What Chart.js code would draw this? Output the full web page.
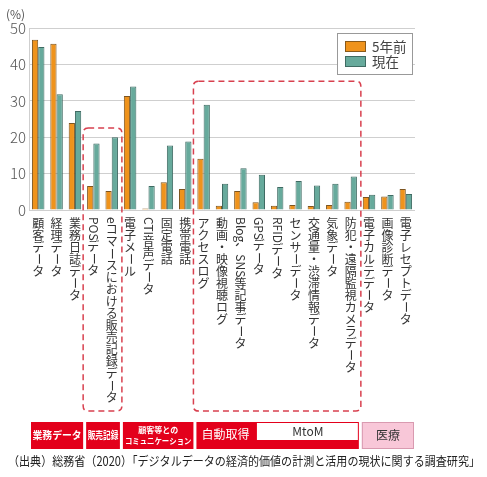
<!DOCTYPE html>
<html>
<head>
<meta charset="utf-8">
<script src="https://cdn.jsdelivr.net/npm/chart.js@4.4.1/dist/chart.umd.min.js"></script>
<style>
  body { margin: 0; background: #fff; }
  #wrap { width: 487px; height: 477px; position: relative; }
</style>
</head>
<body>
<div id="wrap"><canvas id="dataChart"></canvas></div>
<script>
// data
const categories = [
  "顧客データ", "経理データ", "業務日誌データ", "POSデータ",
  "eコマースにおける販売記録データ", "電子メール", "CTI音声データ", "固定電話",
  "携帯電話", "アクセスログ", "動画・映像視聴ログ", "Blog、SNS等記事データ",
  "GPSデータ", "RFIDデータ", "センサーデータ", "交通量・渋滞情報データ",
  "気象データ", "防犯・遠隔監視カメラデータ", "電子カルテデータ", "画像診断データ",
  "電子レセプトデータ"
];
const fiveYearsAgo = [46.8, 45.7, 23.9, 6.6, 5.2, 31.3, 0.4, 7.6, 5.8, 14.1, 1.2, 5.2, 2.1, 1.2, 1.4, 1.1, 1.4, 2.3, 3.6, 3.7, 5.8];
const current = [44.8, 31.8, 27.2, 18.3, 20.0, 33.9, 6.6, 17.7, 18.8, 28.9, 7.2, 11.5, 9.7, 6.3, 8.0, 6.7, 7.2, 9.2, 4.2, 4.1, 4.4];
const seriesNames = ["5年前", "現在"];
const yTicks = [0, 10, 20, 30, 40, 50];

// dashed boxes: category index range and top value
const groupBoxes = [
  { from: 3, to: 4, top: 22.5 },
  { from: 9, to: 17, top: 35.4 }
];

// band under the chart
const bandGroups = [
  { lines: ["業務データ"], from: 0, to: 2, kind: "red" },
  { lines: ["販売記録"], from: 3, to: 4, kind: "red" },
  { lines: ["顧客等との", "コミュニケーション"], from: 5, to: 8, kind: "red" },
  { lines: ["自動取得"], from: 9, to: 17, kind: "red" },
  { lines: ["医療"], from: 18, to: 20, kind: "pink" }
];
const mtomBand = { label: "MtoM", from: 11.9, to: 17 };
const sourceNote = "（出典）総務省（2020）「デジタルデータの経済的価値の計測と活用の現状に関する調査研究」";

const JP = '"Noto Sans CJK JP", "Noto Sans", sans-serif';
const orange = "#ef931c";
const teal = "#67aa9c";
const red = "#e3001b";

// draws one label top to bottom; latin runs and ー are turned sideways
function drawVertical(ctx, text, cx, y0, size) {
  ctx.font = size + "px " + JP;
  ctx.fillStyle = "#333";
  let y = y0;
  let i = 0;
  while (i < text.length) {
    let ch = text[i];
    if (/[A-Za-z0-9 、ー]/.test(ch)) {
      let run = "";
      while (i < text.length && /[A-Za-z0-9 、ー]/.test(text[i])) { run += text[i]; i++; }
      let w = ctx.measureText(run).width;
      ctx.save();
      ctx.translate(cx, y);
      ctx.rotate(Math.PI / 2);
      ctx.textAlign = "left";
      ctx.textBaseline = "middle";
      ctx.fillText(run, 0, 0);
      ctx.restore();
      y += w;
    } else {
      ctx.textAlign = "center";
      ctx.textBaseline = "middle";
      ctx.fillText(ch, cx, y + size / 2);
      y += size;
      i++;
    }
  }
}

function roundedDashedBox(ctx, l, t, r, b, rad) {
  ctx.beginPath();
  ctx.moveTo(l + rad, t);
  ctx.lineTo(r - rad, t);
  ctx.quadraticCurveTo(r, t, r, t + rad);
  ctx.lineTo(r, b - rad);
  ctx.quadraticCurveTo(r, b, r - rad, b);
  ctx.lineTo(l + rad, b);
  ctx.quadraticCurveTo(l, b, l, b - rad);
  ctx.lineTo(l, t + rad);
  ctx.quadraticCurveTo(l, t, l + rad, t);
  ctx.stroke();
}

const extras = {
  id: "extras",
  afterDraw(chart) {
    const ctx = chart.ctx;
    const x = chart.scales.x;
    const y = chart.scales.y;
    const half = (x.getPixelForValue(1) - x.getPixelForValue(0)) / 2;

    // (%) unit
    ctx.save();
    ctx.font = "12px " + JP;
    ctx.fillStyle = "#555";
    ctx.textAlign = "left";
    ctx.textBaseline = "middle";
    ctx.fillText("(%)", 6, 14);

    // category labels
    categories.forEach((c, i) => drawVertical(ctx, c, x.getPixelForValue(i), 217, 12));

    // dashed group boxes
    ctx.strokeStyle = "#d8404f";
    ctx.lineWidth = 1.5;
    ctx.setLineDash([6, 4]);
    groupBoxes.forEach(g => {
      roundedDashedBox(ctx, x.getPixelForValue(g.from) - half - 1, y.getPixelForValue(g.top),
        x.getPixelForValue(g.to) + half + 1, 411, 5);
    });
    ctx.setLineDash([]);

    // legend
    const lx = 337, ly = 33;
    ctx.fillStyle = "#fff";
    ctx.fillRect(lx, ly, 75, 41);
    ctx.strokeStyle = "#999";
    ctx.lineWidth = 1;
    ctx.strokeRect(lx + 0.5, ly + 0.5, 75, 41);
    [orange, teal].forEach((col, k) => {
      ctx.fillStyle = col;
      ctx.fillRect(lx + 8, ly + 8 + k * 15, 21, 11);
      ctx.strokeStyle = k ? "#3f6b63" : "#8a5a1a";
      ctx.strokeRect(lx + 8.5, ly + 8.5 + k * 15, 20, 10);
      ctx.fillStyle = "#444";
      ctx.font = "13.5px " + JP;
      ctx.textAlign = "left";
      ctx.textBaseline = "middle";
      ctx.fillText(seriesNames[k], lx + 35, ly + 14 + k * 15);
    });

    // band under the chart
    const top = 422, bottom = 449;
    bandGroups.forEach(g => {
      const l = x.getPixelForValue(g.from) - half + 2;
      const r = x.getPixelForValue(g.to) + half - 1;
      if (g.kind === "red") {
        ctx.fillStyle = red;
        ctx.fillRect(l, top, r - l, bottom - top);
      } else {
        ctx.fillStyle = "#f8c7d8";
        ctx.fillRect(l, top, r - l, bottom - top);
        ctx.strokeStyle = "#d99ab0";
        ctx.strokeRect(l + 0.5, top + 0.5, r - l - 1, bottom - top - 1);
      }
      ctx.fillStyle = g.kind === "red" ? "#fff" : "#333";
      ctx.textBaseline = "middle";
      if (g.lines.length === 2) {
        ctx.textAlign = "center";
        ctx.font = "bold 8px " + JP;
        ctx.fillText(g.lines[0], (l + r) / 2, top + 8, r - l - 4);
        ctx.fillText(g.lines[1], (l + r) / 2, top + 19, r - l - 4);
      } else if (g.from === 9) {
        ctx.textAlign = "left";
        ctx.font = "12px " + JP;
        ctx.fillText(g.lines[0], l + 5, top + 12);
      } else {
        ctx.textAlign = "center";
        ctx.font = (g.kind === "red" ? "bold 10.5px " : "12px ") + JP;
        ctx.fillText(g.lines[0], (l + r) / 2, top + 13, r - l - 3);
      }
    });
    const ml = x.getPixelForValue(mtomBand.from);
    const mr = x.getPixelForValue(mtomBand.to) + half - 1;
    ctx.fillStyle = "#fff";
    ctx.fillRect(ml, top + 1, mr - ml - 1, 17);
    ctx.fillStyle = "#333";
    ctx.textAlign = "center";
    ctx.font = "12px " + JP;
    ctx.fillText(mtomBand.label, (ml + mr) / 2, top + 9);

    // source note
    ctx.fillStyle = "#222";
    ctx.textAlign = "left";
    ctx.font = "12.5px " + JP;
    ctx.fillText(sourceNote, 8, 461, 472);
    ctx.restore();
  }
};

new Chart(document.getElementById("dataChart"), {
  type: "bar",
  data: {
    labels: categories,
    datasets: [
      { label: seriesNames[0], data: fiveYearsAgo, backgroundColor: orange, borderColor: "#7d5520", borderWidth: 1 },
      { label: seriesNames[1], data: current, backgroundColor: teal, borderColor: "#3f6b63", borderWidth: 1 }
    ]
  },
  options: {
    responsive: true,
    maintainAspectRatio: false,
    animation: false,
    datasets: { bar: { categoryPercentage: 0.68, barPercentage: 1.0 } },
    layout: { padding: { top: 28, right: 72, left: 0, bottom: 0 } },
    plugins: { legend: { display: false }, tooltip: { enabled: false } },
    scales: {
      x: {
        grid: { display: false },
        border: { display: false },
        ticks: { display: false },
        afterFit: s => { s.height = 267; }
      },
      y: {
        min: 0,
        max: 50,
        afterBuildTicks: s => { s.ticks = yTicks.map(v => ({ value: v })); },
        grid: { color: "#cfcfcf", drawTicks: false },
        border: { display: true, color: "#cfcfcf" },
        ticks: { padding: 3, color: "#555", font: { family: JP, size: 15, weight: "300" } },
        afterFit: s => { s.width = 29; }
      }
    }
  },
  plugins: [extras]
});
</script>
</body>
</html>
